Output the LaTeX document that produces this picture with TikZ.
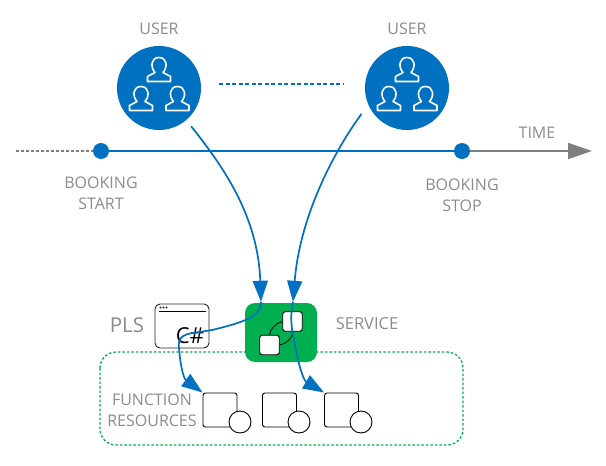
\documentclass[tikz,border=0pt]{standalone}
\usepackage{fontspec}
\setmainfont{Open Sans}
\usetikzlibrary{arrows.meta,calc}
\definecolor{blu}{HTML}{0070C0}
\definecolor{grn}{HTML}{00B050}
\definecolor{gry}{HTML}{7F7F7F}
\definecolor{txtgry}{HTML}{8C8C8C}
\tikzset{
  lbl/.style={text=txtgry,font=\fontsize{16}{21}\selectfont,align=center,inner sep=0pt},
  usercirc/.style={circle,fill=blu,minimum size=84pt,inner sep=0pt,outer sep=8pt},
  dot/.style={circle,fill=blu,minimum size=16pt,inner sep=0pt},
  sq/.style={draw=black,fill=white,rounded corners=2.5pt,line width=0.9pt,minimum size=19.5pt,inner sep=0pt},
  fsq/.style={draw=black,fill=white,rounded corners=2.5pt,line width=0.9pt,minimum width=34pt,minimum height=34pt,inner sep=0pt},
  fcirc/.style={circle,draw=black,fill=white,line width=0.9pt,minimum size=22pt,inner sep=0pt},
  flow/.style={draw=blu,line width=1.7pt},
  flowtip/.style={flow,-{Triangle[length=21pt,width=15pt]}},
  pics/person/.style={code={
    \draw[white,line width=1.6pt,line join=round]
      (-11.5,24.5)--(-11.5,19.5)--(-4,15.5) .. controls (-9,10) and (-8,0.5) .. (0,0.5)
      .. controls (8,0.5) and (9,10) .. (4,15.5)--(11.5,19.5)--(11.5,24.5)--cycle;
  }},
  pics/group/.style={code={
    \pic at (0,-31) {person};
    \pic at (-18,-2) {person};
    \pic at (18.5,-2) {person};
  }}
}
\begin{document}
\begin{tikzpicture}[x=1pt,y=-1pt]
\useasboundingbox (0,0) rectangle (606,466);
\fill[white] (0,0) rectangle (606,466);

% labels
\node[lbl] (userA) at (159,29) {USER};
\node[lbl] (userB) at (407,29) {USER};
\node[lbl] (time) at (537,133) {TIME};
\node[lbl] (bstart) at (101,193) {BOOKING\\START};
\node[lbl] (bstop) at (462,195) {BOOKING\\STOP};
\node[lbl,font=\fontsize{20.5}{24}\selectfont] (pls) at (127,325) {PLS};
\node[lbl,font=\fontsize{16.5}{21}\selectfont] (svc) at (367,324) {SERVICE};
\node[lbl] (fres) at (152,410) {FUNCTION\\RESOURCES};

% users
\node[usercirc] (u1) at (159,88) {};
\node[usercirc] (u2) at (407,88) {};
\pic at (159,88) {group};
\pic at (407,88) {group};
\coordinate (dashL) at (219,84);
\coordinate (dashR) at (343,84);
\draw[blu,line width=1.3pt,dash pattern=on 4pt off 2.5pt] (dashL) -- (dashR);

% timeline
\node[dot] (start) at (101,151) {};
\node[dot] (stop) at (462,151) {};
\coordinate (tail) at (16,151);
\coordinate (tip) at (592,151);
\draw[gry,line width=2pt,dash pattern=on 3pt off 2pt] (tail) -- (start);
\draw[gry,line width=1.8pt,-{Triangle[length=24pt,width=16pt]}] (stop) -- (tip);
\draw[blu,line width=1.8pt] (start) -- (stop);

% function resources frame
\draw[grn,line width=1.3pt,dash pattern=on 2.5pt off 2pt,rounded corners=16pt] (100,352) rectangle (463,445);

% C# box
\node[draw=black!85,fill=white,rounded corners=5pt,line width=0.9pt,minimum width=54pt,minimum height=44pt,inner sep=0pt] (cs) at (182,326) {};
\draw[black,line width=0.9pt] (159,311) -- (206,311);
\fill[black!80] (160.5,307.5) circle (1.1pt) (163.5,307.5) circle (1.1pt) (166.5,307.5) circle (1.1pt);
\node[inner sep=0pt,font=\fontsize{22}{24}\selectfont,text=black] (csharp) at (190,336) {C\#};

% service
\node[fill=grn,rounded corners=10pt,minimum width=72pt,minimum height=59pt,inner sep=0pt] (service) at (281,332.5) {};
\node[sq] (s1) at (269.5,345) {};
\node[sq] (s2) at (292.5,321.5) {};
\draw[black,line width=0.8pt] (s1.north) .. controls (270,329) and (276,323) .. (s2.west);
\draw[black,line width=0.8pt] (s1.east) .. controls (286,344) and (293,338) .. (s2.south);

% function blocks
\node[fsq] (f1) at (220,410) {};
\node[fcirc] (c1) at (240,422) {};
\node[fsq] (f2) at (279.5,410) {};
\node[fcirc] (c2) at (299,422) {};
\node[fsq] (f3) at (341.5,410) {};
\node[fcirc] (c3) at (361,422) {};

% flows
\draw[flowtip] (u1.-50.6) .. controls (222,165) and (258,215) .. ([xshift=-20pt,yshift=1pt]service.north);
\draw[flowtip] ([shift={(-6pt,5pt)}]u2.218) .. controls (335,150) and (300,215) .. ([xshift=12pt,yshift=1pt]service.north);
\draw[flowtip] ([xshift=-20pt,yshift=1pt]service.north) .. controls (262,316) and (245,322) .. (212,330)
  .. controls (190,334) and (177,332) .. (179,348) .. controls (180,362) and (183,378) .. (f1.north west);
\draw[flowtip] ([xshift=12pt,yshift=1pt]service.north) .. controls (289,320) and (293,335) .. (295,345)
  .. controls (298,362) and (303,380) .. (f3.north west);
\end{tikzpicture}
\end{document}
